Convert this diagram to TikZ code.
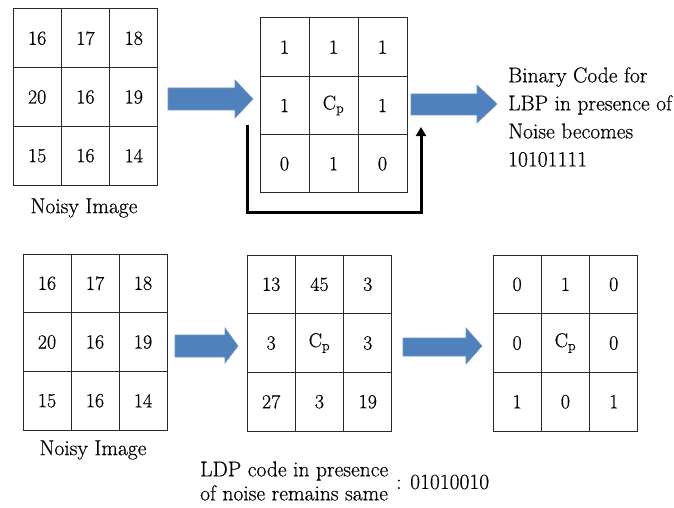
\documentclass[tikz,border=0pt]{standalone}
\usepackage{fontspec}
\setmainfont{Latin Modern Roman}[FakeBold=0.5]
\usetikzlibrary{arrows.meta}
\definecolor{arrowblue}{RGB}{79,129,189}
\definecolor{gridline}{RGB}{40,40,40}
\tikzset{
  cellbox/.style={draw=gridline, line width=1pt, inner sep=0pt, font=\fontsize{20}{24}\selectfont},
  blockarrow/.style={fill=arrowblue, draw=arrowblue!85!white, line width=0.6pt},
  caption/.style={font=\fontsize{21.5}{24}\selectfont, inner sep=0pt},
  bracket/.style={line width=3pt, black, -{Triangle[length=9pt,width=10pt]}}
}
% #1 name, #2 x0, #3 y0, #4 cell w, #5 cell h, #6 entries
\newcommand\cellgrid[6]{%
  \foreach \t [count=\i from 0] in {#6} {
    \pgfmathtruncatemacro\cc{mod(\i,3)}
    \pgfmathtruncatemacro\rr{\i/3}
    \node[cellbox, minimum width=#4pt, minimum height=#5pt] (#1-\i)
      at ({#2+(\cc+0.5)*#4},{#3+(\rr+0.5)*#5}) {\t};
  }%
}
\begin{document}
\begin{tikzpicture}[x=1pt,y=-1pt]
\useasboundingbox (0,0) rectangle (674,508);
% top row
\cellgrid{ga}{13}{9}{48.3}{58.7}{16,17,18,20,16,19,15,16,14}
\node[caption] (capa) at (84,208) {Noisy Image};
\cellgrid{gb}{260}{18}{49}{58.3}{1,1,1,1,{C\textsubscript{p}},1,0,1,0}
% blue arrows top
\fill[blockarrow] (168,88) -- (235,88) -- (235,80) -- (253,99) -- (235,118) -- (235,110) -- (168,110) -- cycle;
\fill[blockarrow] (411,94) -- (477,94) -- (477,85) -- (497,104) -- (477,123) -- (477,115) -- (411,115) -- cycle;
% black bracket arrow
\coordinate (bk1) at (247,125);
\coordinate (bk2) at (247,212);
\coordinate (bk3) at (421,212);
\coordinate (bk4) at (421,127);
\draw[bracket] (bk1) -- (bk2) -- (bk3) -- (bk4);
\node[caption, font=\fontsize{21.5}{28}\selectfont, align=left, anchor=west] (lbp) at (508,117)
  {Binary Code for\\LBP in presence of\\Noise becomes\\10101111};
% bottom row
\cellgrid{gc}{23}{254}{48}{58.7}{16,17,18,20,16,19,15,16,14}
\node[caption] (capc) at (93,450) {Noisy Image};
\cellgrid{gd}{247}{255}{48.3}{58.7}{13,45,3,3,{C\textsubscript{p}},3,27,3,19}
\cellgrid{ge}{493}{255}{48.3}{58.7}{0,1,0,0,{C\textsubscript{p}},0,1,0,1}
\fill[blockarrow] (175,335) -- (225,335) -- (225,328) -- (238,346) -- (225,363) -- (225,357) -- (175,357) -- cycle;
\fill[blockarrow] (403,338) -- (466,338) -- (466,328) -- (482,346) -- (466,364) -- (466,356) -- (403,356) -- cycle;
\node[caption, align=left, anchor=west] (ldp) at (200,481)
  {LDP code in presence\\of noise remains same};
\node[caption, anchor=west] (ldpcode) at (396,482) {: 01010010};
\end{tikzpicture}
\end{document}
